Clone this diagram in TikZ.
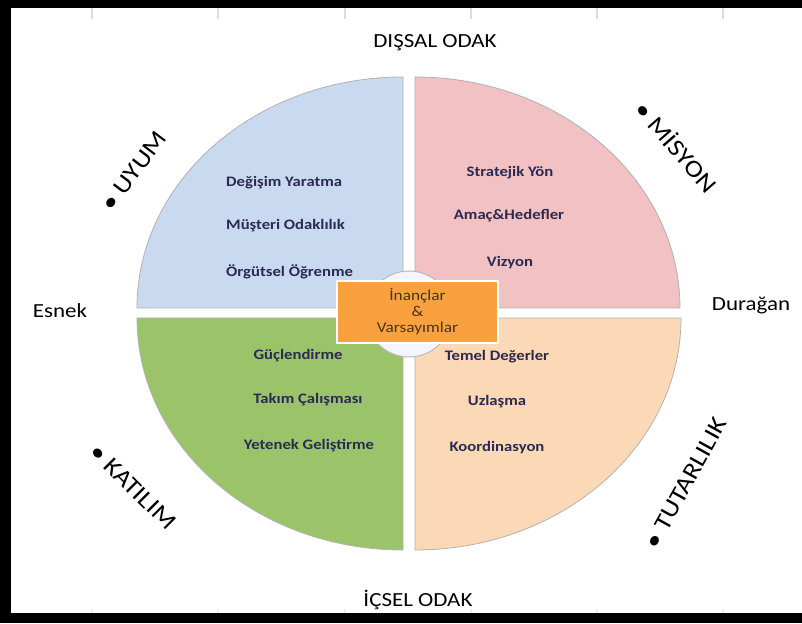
\documentclass[tikz,border=0pt]{standalone}
\usepackage{fontspec}
\setmainfont{Carlito}[FakeStretch=1.15]

\definecolor{qblue}{HTML}{C9DAF0}
\definecolor{qpink}{HTML}{F1C1C3}
\definecolor{qgreen}{HTML}{9BC46A}
\definecolor{qpeach}{HTML}{FCD9B6}
\definecolor{corefill}{HTML}{F9A13F}
\definecolor{itemtext}{HTML}{2A2A52}
\definecolor{coretext}{HTML}{4A3418}
\definecolor{tickgray}{HTML}{DDDDDD}

\begin{document}
\begin{tikzpicture}[x=1pt,y=1pt,
  quarter/.style={draw=gray!60, line width=0.8pt},
  item/.style={text=itemtext, font=\fontsize{14.5}{16}\selectfont\bfseries, inner sep=0pt},
  axislabel/.style={text=black, font=\fontsize{20}{22}\selectfont, inner sep=0pt},
  trait/.style={text=black, font=\fontsize{24}{26}\selectfont, inner sep=0pt},
  tick/.style={draw=tickgray, line width=1.4pt}]

\useasboundingbox (0,0) rectangle (802,623);
\fill[white] (0,0) rectangle (802,623);

% frame bands
\fill[black] (0,615) rectangle (802,623);
\fill[black] (0,0) rectangle (11,623);
\fill[black] (0,0) rectangle (802,10);

% faint grid ticks
\foreach \tx in {92,218,345,471,597,723} {
  \draw[tick] (\tx,615) -- (\tx,604);
  \draw[tick, draw opacity=0.5] (\tx,10) -- (\tx,14);
}

% four quarters
\path[quarter, fill=qblue] (403,315) -- (137,315)
  arc[start angle=180, end angle=90, x radius=266, y radius=231] -- cycle;
\path[quarter, fill=qpink] (415,315) -- (415,546)
  arc[start angle=90, end angle=0, x radius=265, y radius=231] -- cycle;
\path[quarter, fill=qgreen] (403,305) -- (137,305)
  arc[start angle=180, end angle=270, x radius=266, y radius=232] -- cycle;
\path[quarter, fill=qpeach] (415,305) -- (681,305)
  arc[start angle=0, end angle=-90, x radius=266, y radius=232] -- cycle;

% core circle and box
\node[circle, minimum size=86pt, fill=blue!4, draw=gray!55, line width=1pt] (ring) at (409,309) {};
\node[rectangle, minimum width=161pt, minimum height=62pt, fill=corefill, draw=white, line width=1.2pt,
      text=coretext, font=\fontsize{15}{16}\selectfont, align=center, inner sep=0pt] (core) at (417.5,311)
  {İnançlar\\\&\\Varsayımlar};

% quarter items
\node[item, anchor=west] (tl1) at (226,440) {Değişim Yaratma};
\node[item, anchor=west] (tl2) at (226,397) {Müşteri Odaklılık};
\node[item, anchor=west] (tl3) at (226,351) {Örgütsel Öğrenme};

\node[item] (tr1) at (510,450) {Stratejik Yön};
\node[item] (tr2) at (509,407) {Amaç\&Hedefler};
\node[item] (tr3) at (510,360) {Vizyon};

\node[item] (bl1) at (298,267) {Güçlendirme};
\node[item] (bl2) at (308,223) {Takım Çalışması};
\node[item] (bl3) at (309,177) {Yetenek Geliştirme};

\node[item] (br1) at (497,266) {Temel Değerler};
\node[item] (br2) at (497,221) {Uzlaşma};
\node[item] (br3) at (497,175) {Koordinasyon};

% axis labels
\node[axislabel] (top) at (435,580) {DIŞSAL ODAK};
\node[axislabel] (bottom) at (418,23) {İÇSEL ODAK};
\node[axislabel] (left) at (60,312) {Esnek};
\node[axislabel] (right) at (751,318) {Durağan};

% culture traits
\node[trait, rotate=53] (uyum) at (134,452) {• UYUM};
\node[trait, rotate=-49] (misyon) at (677,477) {• MİSYON};
\node[trait, rotate=-45] (katilim) at (133,136) {• KATILIM};
\node[trait, rotate=61] (tutarlilik) at (686,140) {• TUTARLILIK};

\end{tikzpicture}
\end{document}
